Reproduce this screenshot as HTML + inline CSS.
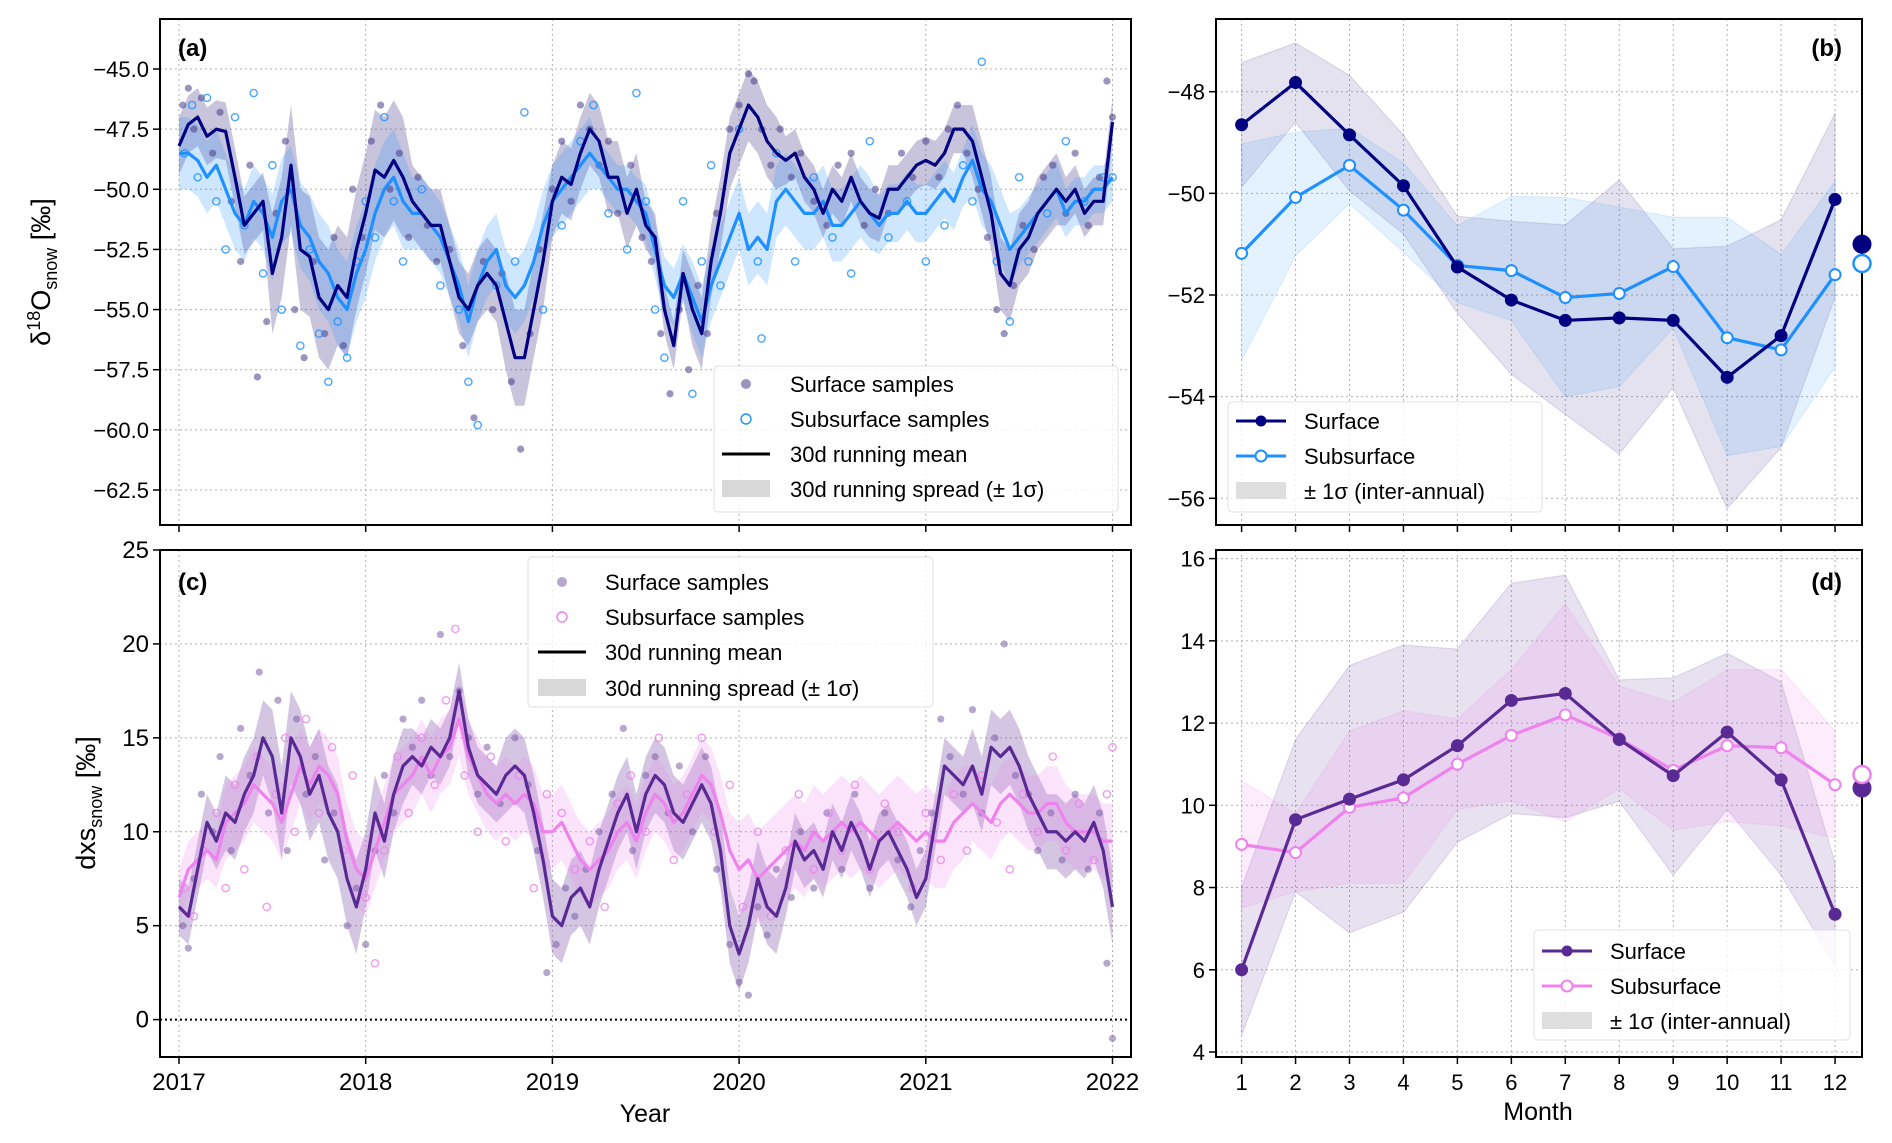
<!DOCTYPE html>
<html><head><meta charset="utf-8">
<style>
html,body{margin:0;padding:0;background:#fff;}
svg{display:block;font-family:"Liberation Sans","DejaVu Sans",sans-serif;}
</style></head>
<body>
<svg id="fig" width="1892" height="1143" viewBox="0 0 1892 1143" xmlns="http://www.w3.org/2000/svg"></svg>
<script>
// ===== Panel (a)/(c) time series data (step 0.05 yr from 2017.0) =====
const tsStart = 2017.0;
const tsStep = 0.05;
const d18oSurfMean = [-48.2,-47.3,-47.0,-47.8,-47.5,-47.6,-49.5,-51.5,-51.0,-50.5,-53.5,-52.0,-49.0,-52.5,-52.8,-54.5,-55.0,-54.0,-54.5,-52.5,
-51.0,-49.2,-49.5,-48.8,-49.5,-50.5,-51.0,-51.5,-51.5,-53.0,-54.5,-55.0,-54.0,-53.5,-54.0,-55.5,-57.0,-57.0,-55.0,-53.0,
-50.5,-49.5,-49.8,-48.5,-47.5,-48.0,-49.5,-49.5,-51.0,-50.0,-51.5,-52.0,-55.0,-56.5,-53.5,-55.0,-56.0,-53.0,-51.0,-48.5,
-47.5,-46.5,-47.0,-48.0,-48.5,-48.8,-48.5,-49.5,-50.0,-51.0,-50.0,-50.5,-49.5,-50.5,-51.0,-51.2,-50.0,-50.0,-49.5,-49.0,
-48.8,-49.0,-48.5,-47.5,-47.5,-48.0,-49.5,-51.0,-53.5,-54.0,-52.5,-52.0,-51.0,-50.5,-50.0,-50.5,-50.0,-51.0,-50.5,-50.5,-47.2];
const d18oSubMean = [-48.5,-48.5,-48.8,-49.5,-49.0,-50.0,-51.0,-51.5,-50.5,-51.0,-52.0,-50.5,-50.0,-51.5,-52.0,-53.0,-53.5,-54.5,-55.0,-53.5,
-52.5,-51.0,-50.0,-49.5,-50.5,-51.0,-51.0,-51.5,-52.0,-53.0,-54.0,-55.5,-54.0,-53.0,-52.5,-54.0,-54.5,-54.0,-53.0,-51.5,
-50.5,-50.0,-49.5,-49.0,-48.5,-49.0,-49.5,-50.0,-50.0,-50.5,-51.0,-52.5,-54.0,-54.5,-53.5,-54.5,-55.5,-54.0,-53.0,-52.0,
-51.0,-52.5,-52.0,-52.5,-50.5,-50.0,-50.5,-51.0,-51.0,-50.5,-51.5,-51.5,-51.0,-50.5,-51.0,-51.5,-51.0,-51.0,-50.5,-51.0,
-51.0,-50.5,-50.0,-50.5,-49.5,-48.8,-50.0,-50.5,-51.5,-52.5,-52.0,-51.5,-51.0,-50.5,-50.0,-51.0,-50.5,-50.5,-50.0,-50.0,-49.5];
const dxsSurfMean = [6.0,5.5,8.0,10.5,9.5,11.0,10.5,12.0,13.0,15.0,14.0,11.0,15.0,14.0,12.0,13.0,11.0,10.0,7.5,6.0,
8.0,11.0,9.5,12.0,13.5,14.0,13.5,14.5,14.0,15.0,17.5,14.5,13.0,12.5,12.0,13.0,13.5,13.0,11.0,8.5,
5.5,5.0,6.5,7.0,6.0,8.0,9.5,11.0,12.0,10.0,12.0,13.0,12.5,11.0,10.5,11.5,12.5,11.5,9.0,5.0,
3.5,5.0,7.5,6.0,5.5,7.0,9.5,8.5,9.0,8.0,10.0,9.0,10.5,9.5,8.0,9.5,10.0,9.0,8.0,6.5,
7.5,10.5,13.5,13.0,12.5,13.5,12.0,14.5,14.0,14.5,13.5,12.0,11.0,10.0,10.0,9.5,10.0,9.5,10.5,9.0,6.0];
const dxsSubMean = [6.5,8.0,8.5,9.0,8.5,10.5,11.0,11.5,12.5,12.0,11.5,10.5,12.0,13.5,12.5,13.5,13.0,12.0,9.5,8.0,
7.5,9.0,10.5,12.0,12.5,13.0,14.0,13.0,14.0,14.5,16.0,14.0,13.0,12.0,11.5,12.0,11.5,12.0,11.5,10.0,
10.0,10.5,9.5,8.5,8.0,8.5,9.0,10.0,10.5,9.5,11.0,12.0,11.5,10.5,11.0,12.0,13.0,12.5,11.0,9.0,
8.0,8.5,7.5,8.0,8.5,9.0,9.5,9.0,10.0,9.5,10.0,10.5,10.0,10.5,10.0,9.5,10.0,10.5,10.0,9.5,
10.0,9.5,9.5,10.5,11.0,11.5,11.0,10.5,11.5,12.0,11.5,11.0,11.0,11.5,11.5,10.5,10.0,10.0,10.0,9.5,9.5];
// running spread (1 sigma), quarterly
const d18oSurfSig = [1.2,1.2,2.5,2.5,2.5,1.5,1.5,2,1.5,1.5,1,1.5,1.5,1,1,1,1,1.5,1.5,1,1];
const d18oSubSig = [1.5,1.5,1.8,2,2,1.5,1.5,1.5,1.5,1,1.2,1.5,1.5,1.5,1.5,1.2,1.2,1.5,1.2,1,1];
const dxsSurfSig = [1.5,2,2.5,2.5,2,1.5,1.5,2,2,2,2,2,2,1.5,1.5,1.5,1.5,2,2,2,2];
const dxsSubSig = [1.5,2,2,2,2,2,2,2,2,2,2,2,2.5,2.5,2.5,2.5,2.5,2,2,2,2];
// samples [year, value]
const d18oSurfSamples = [[2017.02,-46.5],[2017.05,-45.8],[2017.08,-47.5],[2017.12,-46.2],[2017.18,-48.5],[2017.22,-46.8],[2017.28,-50.5],[2017.33,-53],[2017.38,-49],[2017.42,-57.8],[2017.47,-55.5],[2017.52,-51],[2017.57,-48],[2017.62,-55],[2017.67,-57],[2017.72,-53],[2017.78,-56],[2017.83,-52],[2017.88,-56.5],[2017.93,-50],[2017.98,-52],[2018.03,-48],[2018.08,-46.5],[2018.13,-50],[2018.18,-48.5],[2018.23,-52],[2018.28,-49.5],[2018.33,-51.5],[2018.38,-53],[2018.45,-52.5],[2018.52,-56.5],[2018.58,-59.5],[2018.63,-53],[2018.68,-55],[2018.73,-53.5],[2018.78,-58],[2018.83,-60.8],[2018.88,-56],[2018.93,-52.5],[2019.0,-50],[2019.05,-48],[2019.1,-50.5],[2019.15,-46.5],[2019.2,-47.5],[2019.25,-49],[2019.3,-48],[2019.35,-51],[2019.42,-49],[2019.48,-52],[2019.53,-53],[2019.58,-56],[2019.63,-58.5],[2019.68,-55],[2019.73,-57.5],[2019.78,-54],[2019.83,-56],[2019.88,-51],[2019.95,-47.5],[2020.0,-46.5],[2020.05,-45.2],[2020.08,-45.5],[2020.12,-47.5],[2020.17,-49],[2020.22,-47.5],[2020.28,-49.5],[2020.33,-48.5],[2020.4,-50.5],[2020.47,-51.5],[2020.53,-49],[2020.6,-48.5],[2020.67,-51.5],[2020.73,-50],[2020.8,-51],[2020.87,-48.5],[2020.93,-49.5],[2021.0,-48],[2021.07,-49.5],[2021.12,-47.5],[2021.17,-46.5],[2021.22,-48.5],[2021.28,-50],[2021.33,-52],[2021.38,-55],[2021.42,-56],[2021.47,-54],[2021.52,-51.5],[2021.58,-52.5],[2021.63,-49.5],[2021.68,-49],[2021.75,-51],[2021.8,-48.5],[2021.87,-51.5],[2021.93,-49.5],[2021.97,-45.5],[2022.0,-47]];
const d18oSubSamples = [[2017.03,-48.5],[2017.07,-46.5],[2017.1,-49.5],[2017.15,-46.2],[2017.2,-50.5],[2017.25,-52.5],[2017.3,-47],[2017.35,-51.5],[2017.4,-46],[2017.45,-53.5],[2017.5,-49],[2017.55,-55],[2017.6,-50],[2017.65,-56.5],[2017.7,-52.5],[2017.75,-56],[2017.8,-58],[2017.85,-55.5],[2017.9,-57],[2017.95,-53],[2018.0,-50.5],[2018.05,-52],[2018.1,-47],[2018.15,-50.5],[2018.2,-53],[2018.3,-50],[2018.4,-54],[2018.5,-55],[2018.55,-58],[2018.6,-59.8],[2018.7,-54],[2018.8,-53],[2018.85,-46.8],[2018.95,-55],[2019.05,-51.5],[2019.15,-48],[2019.22,-46.5],[2019.3,-51],[2019.4,-52.5],[2019.45,-46],[2019.5,-50.5],[2019.55,-55],[2019.6,-57],[2019.7,-50.5],[2019.75,-58.5],[2019.8,-53],[2019.85,-49],[2019.9,-54],[2020.0,-47.5],[2020.1,-53],[2020.12,-56.2],[2020.2,-48.5],[2020.3,-53],[2020.4,-49.5],[2020.5,-52],[2020.6,-53.5],[2020.7,-48],[2020.8,-52],[2020.9,-50.5],[2021.0,-53],[2021.1,-51.5],[2021.2,-49],[2021.25,-50.5],[2021.3,-44.7],[2021.38,-53],[2021.45,-55.5],[2021.5,-49.5],[2021.55,-53],[2021.65,-51],[2021.75,-48],[2021.85,-50.5],[2021.95,-49.5],[2022.0,-49.5]];
const dxsSurfSamples = [[2017.02,5],[2017.05,3.8],[2017.08,7.5],[2017.12,12],[2017.18,10],[2017.22,14],[2017.28,9],[2017.33,15.5],[2017.38,13],[2017.43,18.5],[2017.48,11],[2017.53,17],[2017.58,9],[2017.63,16],[2017.68,12],[2017.73,14],[2017.78,8.5],[2017.83,11],[2017.9,5],[2017.95,7],[2018.0,4],[2018.05,9],[2018.1,13],[2018.15,11],[2018.2,16],[2018.25,14.5],[2018.3,17],[2018.35,13],[2018.4,20.5],[2018.45,14],[2018.5,17.5],[2018.55,15],[2018.6,12],[2018.65,14.5],[2018.72,11.5],[2018.8,15],[2018.87,12.5],[2018.92,9],[2018.97,2.5],[2019.02,4],[2019.07,7],[2019.12,5.5],[2019.18,8],[2019.25,10],[2019.32,12],[2019.38,15.5],[2019.43,9],[2019.5,13],[2019.55,14],[2019.62,11],[2019.68,13.5],[2019.75,10],[2019.82,14],[2019.88,8],[2019.95,4],[2020.0,2],[2020.05,1.3],[2020.1,6],[2020.15,4.5],[2020.2,8],[2020.28,6.5],[2020.33,10],[2020.4,7],[2020.47,11],[2020.55,8],[2020.62,12],[2020.7,7],[2020.78,11],[2020.85,8.5],[2020.92,6],[2020.97,9],[2021.03,11],[2021.08,16],[2021.13,14],[2021.2,12],[2021.25,16.5],[2021.3,11],[2021.37,15],[2021.42,20],[2021.48,13],[2021.55,12],[2021.6,9],[2021.67,11],[2021.73,8.5],[2021.8,12],[2021.87,8],[2021.93,11],[2021.97,3],[2022.0,-1]];
const dxsSubSamples = [[2017.03,7],[2017.08,5.5],[2017.13,9],[2017.2,11],[2017.25,7],[2017.3,12.5],[2017.35,8],[2017.42,14],[2017.47,6],[2017.52,12],[2017.57,15],[2017.62,10],[2017.68,16],[2017.75,11],[2017.82,14.5],[2017.88,9],[2017.93,13],[2018.0,6.5],[2018.05,3],[2018.1,9],[2018.17,14],[2018.23,11],[2018.3,15],[2018.37,12.5],[2018.43,17],[2018.48,20.8],[2018.53,13],[2018.6,10],[2018.67,14],[2018.75,9.5],[2018.82,13],[2018.9,7],[2018.97,12],[2019.05,11],[2019.12,8],[2019.2,9.5],[2019.28,6],[2019.35,11.5],[2019.42,13],[2019.5,10],[2019.57,15],[2019.65,8.5],[2019.72,12],[2019.8,15],[2019.87,10],[2019.95,12.5],[2020.02,6],[2020.1,10],[2020.17,5.5],[2020.25,9],[2020.32,12],[2020.4,8],[2020.48,11],[2020.55,9],[2020.62,12.5],[2020.7,8],[2020.78,11.5],[2020.85,10],[2020.93,7],[2021.0,11],[2021.08,8.5],[2021.15,12],[2021.22,9],[2021.3,13],[2021.38,10.5],[2021.45,8],[2021.52,12],[2021.6,10],[2021.68,14],[2021.75,9],[2021.82,11.5],[2021.9,8.5],[2021.97,12],[2022.0,14.5]];
const yearTicks = [2017,2018,2019,2020,2021,2022];
const d18oTicks = [-45.0,-47.5,-50.0,-52.5,-55.0,-57.5,-60.0,-62.5];
const dxsTicks = [0,5,10,15,20,25];

// ===== Panel (b)/(d) monthly data =====
const months = [1,2,3,4,5,6,7,8,9,10,11,12];
const mD18oSurf = [-48.65,-47.82,-48.85,-49.85,-51.45,-52.1,-52.5,-52.45,-52.5,-53.62,-52.8,-50.12];
const mD18oSurfHi = [-47.43,-47.04,-47.68,-48.85,-50.45,-50.55,-50.62,-49.74,-51.09,-51.04,-50.52,-48.43];
const mD18oSurfLo = [-49.88,-48.6,-49.95,-50.8,-52.36,-53.56,-54.35,-55.13,-53.82,-56.2,-55.0,-52.04];
const mD18oSub = [-51.18,-50.08,-49.45,-50.33,-51.42,-51.52,-52.05,-51.97,-51.44,-52.84,-53.08,-51.6];
const mD18oSubHi = [-49.03,-48.8,-48.72,-49.4,-50.64,-50.06,-50.08,-50.27,-50.47,-50.47,-51.2,-49.77];
const mD18oSubLo = [-53.28,-51.23,-50.2,-51.16,-52.15,-52.5,-54.0,-53.8,-52.65,-55.16,-54.98,-53.42];
const annD18o = [-51.0,-51.38];
const mDxsSurf = [6.0,9.65,10.15,10.62,11.45,12.55,12.72,11.6,10.72,11.78,10.62,7.35];
const mDxsSurfHi = [8.0,11.6,13.4,13.9,13.8,15.4,15.6,13.05,13.1,13.7,13.0,8.6];
const mDxsSurfLo = [4.4,7.9,6.9,7.4,9.1,9.8,9.7,10.1,8.3,9.9,8.3,6.1];
const mDxsSub = [9.05,8.85,9.95,10.18,11.0,11.7,12.2,11.62,10.85,11.45,11.4,10.5];
const mDxsSubHi = [10.6,9.8,11.8,12.3,12.1,13.3,14.9,12.9,12.5,13.3,13.3,11.8];
const mDxsSubLo = [7.5,7.9,8.1,8.1,9.9,10.1,9.6,10.4,9.4,9.6,9.5,9.2];
const annDxs = [10.42,10.75];
const bTicks = [-48,-50,-52,-54,-56];
const dTicks = [4,6,8,10,12,14,16];

const NS = "http://www.w3.org/2000/svg";
const svg = document.getElementById('fig');
function el(tag, attrs, parent){
  const e = document.createElementNS(NS, tag);
  for (const k in attrs) e.setAttribute(k, attrs[k]);
  (parent||svg).appendChild(e);
  return e;
}
function txt(x,y,s,size,anchor,parent,extra){
  const t = el('text',{x:x,y:y,'font-size':size,'text-anchor':anchor||'middle',fill:'#000'},parent);
  if(extra) for(const k in extra) t.setAttribute(k,extra[k]);
  t.textContent = s; return t;
}
// axes
const A = {l:160,r:1131,t:19,b:525};
const C = {l:160,r:1131,t:550,b:1057};
const B = {l:1216,r:1862,t:19,b:525};
const D = {l:1216,r:1862,t:550,b:1057};
const xYear = v => 179 + (v-2017)*186.7;
const yA = v => 69 + (-45 - v)*(421/17.5);
const yC = v => 1019.6 - v*(469.6/25);
const xMon = v => 1241.6 + (v-1)*53.95;
const yB = v => 91.7 + (-48 - v)*(406.6/8);
const yD = v => 1052 - (v-4)*(493.4/12);

function clipFor(id, P){
  const cp = el('clipPath',{id:id});
  el('rect',{x:P.l,y:P.t,width:P.r-P.l,height:P.b-P.t},cp);
}
clipFor('clipA',A);clipFor('clipC',C);clipFor('clipB',B);clipFor('clipD',D);

function gridAndFrame(P, g, xs, xf, ys, yf){
  xs.forEach(v=>{ el('line',{x1:xf(v),x2:xf(v),y1:P.t,y2:P.b,stroke:'#b0b0b0','stroke-width':1,'stroke-dasharray':'2,3'},g); });
  ys.forEach(v=>{ el('line',{x1:P.l,x2:P.r,y1:yf(v),y2:yf(v),stroke:'#b0b0b0','stroke-width':1,'stroke-dasharray':'2,3'},g); });
}
function frame(P,g){ el('rect',{x:P.l,y:P.t,width:P.r-P.l,height:P.b-P.t,fill:'none',stroke:'#000','stroke-width':2},g); }
function ticks(P,g,xs,xf,ys,yf,xl,yl,fs){
  xs.forEach(v=>{ el('line',{x1:xf(v),x2:xf(v),y1:P.b,y2:P.b+7,stroke:'#000','stroke-width':1.5},g);
    if(xl){ const t=txt(xf(v),P.b+33,xl(v),fs,'middle',g);   } });
  ys.forEach(v=>{ el('line',{x1:P.l-7,x2:P.l,y1:yf(v),y2:yf(v),stroke:'#000','stroke-width':1.5},g);
    const t=txt(P.l-11,yf(v)+8,yl(v),fs,'end',g);   });
}
const minus = s => s.replace('-','\u2212');

function tsBand(mean, sig, xf, yf, fill, g){
  let up=[], lo=[];
  mean.forEach((m,i)=>{ const s=sig[Math.min(sig.length-1,Math.floor(i/5))]; const x=xf(tsStart+i*tsStep);
    up.push(x+','+yf(m+s)); lo.unshift(x+','+yf(m-s)); });
  return el('polygon',{points:up.concat(lo).join(' '),fill:fill,stroke:'none'},g);
}
function tsLine(mean, xf, yf, color, g){
  const pts = mean.map((m,i)=>xf(tsStart+i*tsStep)+','+yf(m)).join(' ');
  return el('polyline',{points:pts,fill:'none',stroke:color,'stroke-width':3.2,'stroke-linejoin':'round'},g);
}
function scatter(data, xf, yf, filled, color, g){
  data.forEach(p=>{
    const c = el('circle',{cx:xf(p[0]),cy:yf(p[1]),r:3.6,fill:filled?color:'none',stroke:color,'stroke-width':filled?0:1.4,opacity:filled?0.55:0.8},g);
    
    
  });
}
function legendBox(x,y,w,h,g){ el('rect',{x:x,y:y,width:w,height:h,rx:4,fill:'#fff','fill-opacity':0.8,stroke:'#e0e0e0','stroke-width':1},g); }

// ===== Panel A =====
const gA = el('g',{});  
gridAndFrame(A,gA,yearTicks,xYear,d18oTicks,yA);
const gAc = el('g',{'clip-path':'url(#clipA)'},gA);
tsBand(d18oSurfMean,d18oSurfSig,xYear,yA,'rgba(72,61,139,0.30)',gAc);
tsBand(d18oSubMean,d18oSubSig,xYear,yA,'rgba(30,144,255,0.22)',gAc);
scatter(d18oSurfSamples,xYear,yA,true,'#483d8b',gAc);
scatter(d18oSubSamples,xYear,yA,false,'#1e90ff',gAc);
tsLine(d18oSubMean,xYear,yA,'#1e90ff',gAc);
tsLine(d18oSurfMean,xYear,yA,'#000080',gAc);
frame(A,gA);
ticks(A,gA,yearTicks,xYear,d18oTicks,yA,null,v=>minus(v.toFixed(1)),22);
txt(178,56,'(a)',24,'start',gA,{'font-weight':'bold'});
const ylA = el('text',{transform:'translate(50,272) rotate(-90)','font-size':27,'text-anchor':'middle'},gA);
 
ylA.innerHTML = 'δ<tspan dy="-10" font-size="18">18</tspan><tspan dy="10">O</tspan><tspan dy="7" font-size="18">snow</tspan><tspan dy="-7"> [‰]</tspan>';
// legend A
const lgA = el('g',{},gA);  
legendBox(714,366,404,146,lgA);
el('circle',{cx:746,cy:384,r:5,fill:'#483d8b',opacity:0.55},lgA); txt(790,392,'Surface samples',22,'start',lgA);
el('circle',{cx:746,cy:419,r:5,fill:'none',stroke:'#1e90ff','stroke-width':1.4},lgA); txt(790,427,'Subsurface samples',22,'start',lgA);
el('line',{x1:722,x2:770,y1:454,y2:454,stroke:'#000','stroke-width':3},lgA); txt(790,462,'30d running mean',22,'start',lgA);
el('rect',{x:722,y:480,width:48,height:17,fill:'#d8d8d8'},lgA); txt(790,497,'30d running spread (± 1σ)',22,'start',lgA);

// ===== Panel C =====
const gC = el('g',{});  
gridAndFrame(C,gC,yearTicks,xYear,dxsTicks.filter(v=>v>0),yC);
el('line',{x1:C.l,x2:C.r,y1:yC(0),y2:yC(0),stroke:'#000','stroke-width':2,'stroke-dasharray':'2,3'},gC);
const gCc = el('g',{'clip-path':'url(#clipC)'},gC);
tsBand(dxsSurfMean,dxsSurfSig,xYear,yC,'rgba(102,51,153,0.28)',gCc);
tsBand(dxsSubMean,dxsSubSig,xYear,yC,'rgba(238,130,238,0.22)',gCc);
scatter(dxsSurfSamples,xYear,yC,true,'#7b5ea7',gCc);
scatter(dxsSubSamples,xYear,yC,false,'#ee82ee',gCc);
tsLine(dxsSubMean,xYear,yC,'#ee82ee',gCc);
tsLine(dxsSurfMean,xYear,yC,'#5a2a94',gCc);
frame(C,gC);
ticks(C,gC,yearTicks,xYear,dxsTicks,yC,v=>String(v),v=>String(v),24);
txt(645,1122,'Year',25,'middle',gC);
txt(178,590,'(c)',24,'start',gC,{'font-weight':'bold'});
const ylC = el('text',{transform:'translate(95,803) rotate(-90)','font-size':27,'text-anchor':'middle'},gC);
 
ylC.innerHTML = 'dxs<tspan dy="7" font-size="18">snow</tspan><tspan dy="-7"> [‰]</tspan>';
const lgC = el('g',{},gC);  
legendBox(528,557,405,150,lgC);
el('circle',{cx:562,cy:582,r:5,fill:'#7b5ea7',opacity:0.55},lgC); txt(605,590,'Surface samples',22,'start',lgC);
el('circle',{cx:562,cy:617,r:5,fill:'none',stroke:'#ee82ee','stroke-width':1.4},lgC); txt(605,625,'Subsurface samples',22,'start',lgC);
el('line',{x1:538,x2:586,y1:652,y2:652,stroke:'#000','stroke-width':3},lgC); txt(605,660,'30d running mean',22,'start',lgC);
el('rect',{x:538,y:679,width:48,height:17,fill:'#d8d8d8'},lgC); txt(605,696,'30d running spread (± 1σ)',22,'start',lgC);

// ===== Monthly panels =====
function monthly(P,g,clipId,yf,surf,sHi,sLo,sub,bHi,bLo,ann,cS,cB,fS,fB){
  const gc = el('g',{'clip-path':'url(#'+clipId+')'},g);
  const band=(hi,lo,fill,name)=>{ const pts=months.map((m,i)=>xMon(m)+','+yf(hi[i])).concat(months.slice().reverse().map((m,j)=>xMon(m)+','+yf(lo[lo.length-1-j])));
    const p=el('polygon',{points:pts.join(' '),fill:fill,stroke:fill,'stroke-width':1.2},gc);   };
  band(sHi,sLo,fS,'surface-sigma-band');
  band(bHi,bLo,fB,'subsurface-sigma-band');
  const line=(vals,color,filled,name)=>{
    const pl=el('polyline',{points:months.map((m,i)=>xMon(m)+','+yf(vals[i])).join(' '),fill:'none',stroke:color,'stroke-width':3.2},gc);
     
    months.forEach((m,i)=>{ const c=el('circle',{cx:xMon(m),cy:yf(vals[i]),r:5.5,fill:filled?color:'#fff',stroke:color,'stroke-width':2},gc);
        });
  };
  line(sub,cB,false,'subsurface');
  line(surf,cS,true,'surface');
  const a1=el('circle',{cx:P.r,cy:yf(ann[0]),r:8.5,fill:cS,stroke:cS,'stroke-width':2},g);
   
  const a2=el('circle',{cx:P.r,cy:yf(ann[1]),r:8.5,fill:'#fff',stroke:cB,'stroke-width':2.5},g);
   
}
// B
const gB = el('g',{});  
gridAndFrame(B,gB,months,xMon,bTicks,yB);
frame(B,gB);
monthly(B,gB,'clipB',yB,mD18oSurf,mD18oSurfHi,mD18oSurfLo,mD18oSub,mD18oSubHi,mD18oSubLo,annD18o,'#000080','#1e90ff','rgba(72,61,139,0.15)','rgba(30,144,255,0.12)');
ticks(B,gB,months,xMon,bTicks,yB,null,v=>minus(String(v)),22);
txt(1842,56,'(b)',24,'end',gB,{'font-weight':'bold'});
const lgB = el('g',{},gB);  
legendBox(1228,402,314,110,lgB);
el('line',{x1:1236,x2:1286,y1:421,y2:421,stroke:'#000080','stroke-width':3},lgB); el('circle',{cx:1261,cy:421,r:5.5,fill:'#000080'},lgB); txt(1304,429,'Surface',22,'start',lgB);
el('line',{x1:1236,x2:1286,y1:456,y2:456,stroke:'#1e90ff','stroke-width':3},lgB); el('circle',{cx:1261,cy:456,r:5.5,fill:'#fff',stroke:'#1e90ff','stroke-width':2},lgB); txt(1304,464,'Subsurface',22,'start',lgB);
el('rect',{x:1236,y:482,width:50,height:17,fill:'#dedede'},lgB); txt(1304,499,'± 1σ (inter-annual)',22,'start',lgB);
// D
const gD = el('g',{});  
gridAndFrame(D,gD,months,xMon,dTicks,yD);
frame(D,gD);
monthly(D,gD,'clipD',yD,mDxsSurf,mDxsSurfHi,mDxsSurfLo,mDxsSub,mDxsSubHi,mDxsSubLo,annDxs,'#5a2a94','#ee82ee','rgba(102,51,153,0.15)','rgba(238,130,238,0.15)');
ticks(D,gD,months,xMon,dTicks,yD,v=>String(v),v=>String(v),22);
txt(1538,1120,'Month',25,'middle',gD);
txt(1842,590,'(d)',24,'end',gD,{'font-weight':'bold'});
const lgD = el('g',{},gD);  
legendBox(1534,930,316,110,lgD);
el('line',{x1:1542,x2:1592,y1:951,y2:951,stroke:'#5a2a94','stroke-width':3},lgD); el('circle',{cx:1567,cy:951,r:5.5,fill:'#5a2a94'},lgD); txt(1610,959,'Surface',22,'start',lgD);
el('line',{x1:1542,x2:1592,y1:986,y2:986,stroke:'#ee82ee','stroke-width':3},lgD); el('circle',{cx:1567,cy:986,r:5.5,fill:'#fff',stroke:'#ee82ee','stroke-width':2},lgD); txt(1610,994,'Subsurface',22,'start',lgD);
el('rect',{x:1542,y:1012,width:50,height:17,fill:'#dedede'},lgD); txt(1610,1029,'± 1σ (inter-annual)',22,'start',lgD);
</script>
</body></html>
